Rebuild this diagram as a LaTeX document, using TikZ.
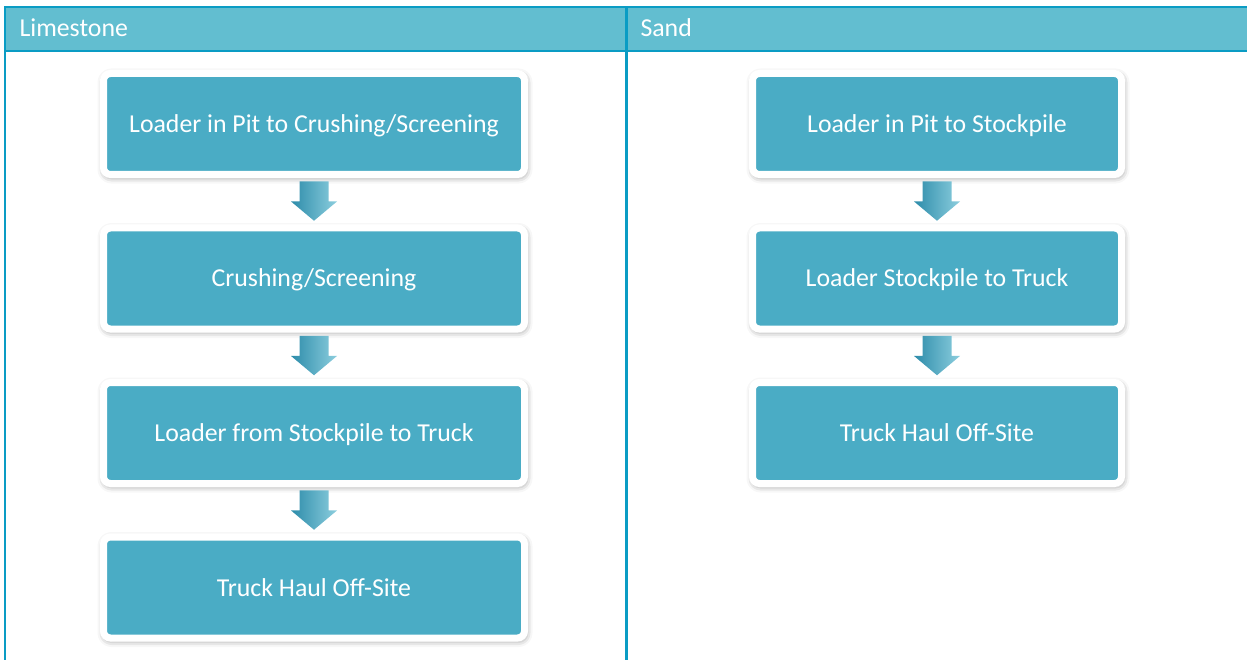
\documentclass[tikz,border=0pt]{standalone}
\usepackage{fontspec}
\setmainfont{Carlito}
\usepackage{tikz}
\usetikzlibrary{positioning,calc,shadows.blur}
\definecolor{framebl}{RGB}{10,156,196}
\definecolor{headbl}{RGB}{98,190,208}
\definecolor{stepbl}{RGB}{74,172,197}
\definecolor{arrowdk}{RGB}{45,140,170}
\definecolor{arrowlt}{RGB}{140,206,222}

\begin{document}
\begin{tikzpicture}[x=1pt, y=1pt, font=\fontsize{25.8}{30}\selectfont,
                   node distance=46.5pt,
                   stepbox/.style={draw=white, line width=7pt, fill=stepbl,
                     rounded corners=7pt, text=white, minimum height=101pt,
                     text height=17pt, text depth=0pt,
                     blur shadow={shadow xshift=1pt, shadow yshift=-2pt,
                       shadow blur radius=7pt, shadow opacity=50}},
                   wide/.style={minimum width=421pt},
                   narrow/.style={minimum width=369pt},
                   downarrow/.style={left color=arrowdk, right color=arrowlt},
                   head/.style={anchor=base west, text=white}]
  \useasboundingbox (0,0) rectangle (1247,-660);
  % frame and headers
  \fill[headbl] (5,-7) rectangle (1247,-51);
  \draw[framebl, line width=2.8pt] (5,-660) -- (5,-7) -- (1247,-7);
  \draw[framebl, line width=2.8pt] (5,-51) -- (1247,-51);
  \draw[framebl, line width=3pt] (626,-7) -- (626,-660);
  \node[head] (hlime) at (16,-37) {Limestone};
  \node[head] (hsand) at (637,-37) {Sand};

  % limestone
  \node[stepbox, wide] (l1) at (314,-124) {Loader in Pit to Crushing/Screening};
  \node[stepbox, wide, below=of l1] (l2) {Crushing/Screening};
  \node[stepbox, wide, below=of l2] (l3) {Loader from Stockpile to Truck};
  \node[stepbox, wide, below=of l3] (l4) {Truck Haul Off-Site};

  % sand
  \node[stepbox, narrow] (s1) at (937,-124) {Loader in Pit to Stockpile};
  \node[stepbox, narrow, below=of s1] (s2) {Loader Stockpile to Truck};
  \node[stepbox, narrow, below=of s2] (s3) {Truck Haul Off-Site};

  \foreach \a/\b in {l1/l2, l2/l3, l3/l4, s1/s2, s2/s3} {
    \coordinate (\a\b) at ($(\a.south)!.5!(\b.north)$);
    \shade[downarrow] ([shift={(-14.5,19.8)}]\a\b) -- ++(29,0) -- ++(0,-20)
      -- ++(8.5,0) -- ++(-23,-19.3) -- ++(-23,19.3) -- ++(8.5,0) -- cycle;
  }
\end{tikzpicture}
\end{document}
